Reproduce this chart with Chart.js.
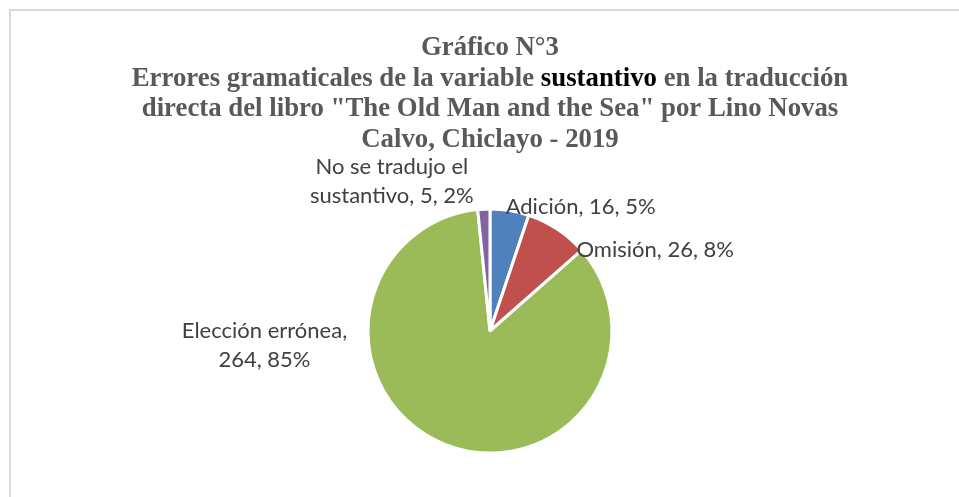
<!DOCTYPE html>
<html>
<head>
<meta charset="utf-8">
<script src="https://cdn.jsdelivr.net/npm/chart.js@4"></script>
<style>
    body { margin: 0; background: #fff; overflow: hidden; }
    #frame { position: absolute; left: 9px; top: 9px; width: 1000px; height: 600px; border: 2px solid #d9d9d9; }
    #chart { position: absolute; left: 0; top: 0; }
</style>
</head>
<body>
<div id="frame"></div>
<canvas id="chart" width="959" height="497"></canvas>
<script>
// Chart data
const categories = ['Adición', 'Omisión', 'Elección errónea', 'No se tradujo el sustantivo'];
const counts = [16, 26, 264, 5];
const percents = ['5%', '8%', '85%', '2%'];
const sliceColors = ['#4F81BD', '#C0504D', '#9BBB59', '#8064A2'];

// Label text lines per slice
const labelLines = [
    ['Adición, 16, 5%'],
    ['Omisión, 26, 8%'],
    ['Elección errónea,', '264, 85%'],
    ['No se tradujo el', 'sustantivo, 5, 2%']
];
// Label placement relative to slice outer mid point: [dx, dy, align]
const labelPlace = [
    [-4, 3, 'left'],
    [19, 28, 'left'],
    [-181, -107, 'center'],
    [-92, -35, 'center']
];

// Title lines, each a list of [text, colour] pieces
const titleLines = [
    [['Gráfico N°3', '#595959']],
    [['Errores gramaticales de la variable ', '#595959'], ['sustantivo', '#000000'], [' en la traducción', '#595959']],
    [['directa del libro "The Old Man and the Sea" por Lino Novas', '#595959']],
    [['Calvo, Chiclayo - 2019', '#595959']]
];

// Draw the multi-colour title
const titlePlugin = {
    id: 'titlePlugin',
    afterDraw(chart) {
        const ctx = chart.ctx;
        ctx.save();
        ctx.font = 'bold 26.8px "Liberation Serif", "Times New Roman", serif';
        ctx.textBaseline = 'alphabetic';
        ctx.textAlign = 'left';
        const cx = 490;
        titleLines.forEach((pieces, i) => {
            const total = pieces.reduce((w, p) => w + ctx.measureText(p[0]).width, 0);
            let x = cx - total / 2;
            const y = 55 + i * 30.7;
            pieces.forEach(p => {
                ctx.fillStyle = p[1];
                ctx.fillText(p[0], x, y);
                x += ctx.measureText(p[0]).width;
            });
        });
        ctx.restore();
    }
};

// Draw data labels next to each slice
const labelPlugin = {
    id: 'labelPlugin',
    afterDatasetsDraw(chart) {
        const ctx = chart.ctx;
        const meta = chart.getDatasetMeta(0);
        ctx.save();
        ctx.font = '22px Lato, "Open Sans", sans-serif';
        ctx.fillStyle = '#404040';
        ctx.textBaseline = 'alphabetic';
        meta.data.forEach((arc, i) => {
            const mid = (arc.startAngle + arc.endAngle) / 2;
            const px = arc.x + Math.cos(mid) * arc.outerRadius;
            const py = arc.y + Math.sin(mid) * arc.outerRadius;
            const [dx, dy, align] = labelPlace[i];
            ctx.textAlign = align;
            labelLines[i].forEach((line, j) => {
                ctx.fillText(line, px + dx, py + dy + j * 29);
            });
        });
        ctx.restore();
    }
};

new Chart(document.getElementById('chart'), {
    type: 'pie',
    data: {
        labels: categories,
        datasets: [{
            data: counts,
            backgroundColor: sliceColors,
            borderColor: '#ffffff',
            borderWidth: 3,
            radius: 122
        }]
    },
    options: {
        responsive: false,
        animation: false,
        layout: {
            padding: { left: 360, right: 339, top: 201, bottom: 36 }
        },
        plugins: {
            legend: { display: false },
            tooltip: { enabled: false }
        }
    },
    plugins: [titlePlugin, labelPlugin]
});
</script>
</body>
</html>
